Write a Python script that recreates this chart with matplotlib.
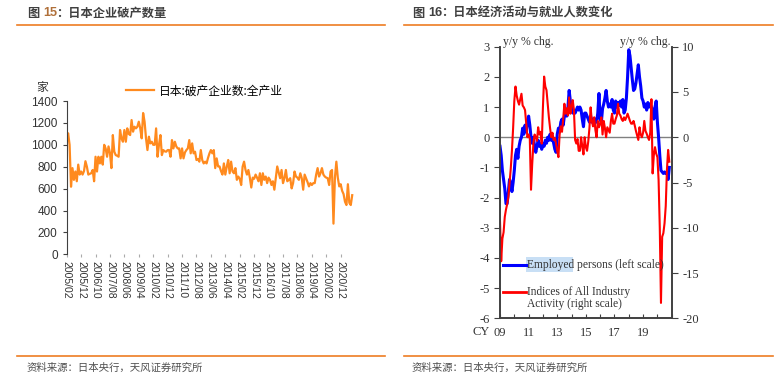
import matplotlib.pyplot as plt
from matplotlib.lines import Line2D
import numpy as np
import pandas as pd

plt.rcParams['font.family'] = ['Liberation Sans', 'Noto Sans CJK SC', 'DejaVu Sans']
plt.rcParams['axes.unicode_minus'] = False

# ---- 图15: 日本破产企业数 (monthly, from 2005/02) ----
bankrupt_start = '2005-02'
bankrupt_count = [
    1059, 1105, 1000, 617, 787, 680, 756, 667, 819, 728,
    756, 728, 760, 850, 800, 728, 735, 740, 770, 667,
    891, 756, 891, 830, 891, 819, 1000, 967, 891, 985,
    925, 787, 1089, 937, 906, 900, 891, 1135, 1059, 1028,
    1135, 1028, 1150, 1100, 1089, 1226, 1120, 1165, 1150, 1165,
    1211, 1150, 1059, 1290, 1211, 1059, 952, 1074, 1013, 1028,
    1000, 1000, 1150, 891, 1000, 1089, 906, 952, 940, 937,
    952, 952, 891, 1043, 967, 1028, 985, 967, 967, 876,
    967, 876, 930, 952, 967, 1043, 922, 1013, 922, 937,
    861, 870, 846, 952, 861, 830, 846, 830, 880, 922,
    952, 922, 952, 787, 876, 802, 802, 760, 728, 830,
    728, 800, 861, 740, 846, 756, 740, 787, 680, 710,
    690, 633, 800, 846, 770, 728, 770, 700, 610, 700,
    690, 728, 700, 667, 740, 633, 740, 680, 710, 650,
    700, 680, 633, 667, 590, 700, 802, 750, 695, 770,
    650, 695, 770, 667, 680, 695, 602, 650, 756, 710,
    700, 680, 740, 695, 590, 728, 695, 660, 620, 650,
    633, 650, 650, 728, 787, 710, 740, 787, 728, 710,
    700, 695, 633, 756, 770, 280, 700, 846, 700, 620,
    640, 580, 550, 480, 450, 640, 470, 450, 540,
]
bankrupt_label = '日本:破产企业数:全产业'

# ---- 图16: employed persons (left, y/y %) and all industry activity (right, y/y %) ----
activity_start_year = 2009
employed = [
    -0.3, -0.6, -1.1, -1.4, -1.7, -2.2, -2.2, -1.8, -1.4, -1.5, -1.8, -1.5,
    -1.1, -0.6, -0.4, -0.7, -0.3, -0.1, 0.0, 0.3, 0.1, 0.4, 0.2, 0.5,
    0.7, 0.4, 0.0, -0.2, 0.0, -0.3, -0.5, -0.3, -0.1, -0.3, -0.2, -0.4,
    -0.2, -0.3, -0.1, -0.2, 0.0, -0.1, 0.1, -0.1, 0.0, -0.2, -0.4, -0.5,
    0.1, 0.3, 0.2, 0.5, 0.6, 0.4, 0.7, 0.9, 0.7, 1.0, 1.55, 1.2,
    1.0, 0.8, 0.9, 0.8, 0.9, 1.0, 0.9, 1.0, 0.9, 0.6, 0.35, 0.8,
    0.8, 0.7, 0.6, 0.5, 0.7, 0.5, 0.6, 0.4, 0.6, 0.5, 0.8, 1.45,
    0.6, 0.5, 0.95, 1.1, 1.3, 1.55, 1.2, 1.0, 1.1, 1.0, 1.25, 0.9,
    0.8, 1.2, 1.0, 1.15, 1.05, 1.2, 1.0, 1.25, 0.8, 0.9, 1.3, 2.0,
    2.9, 2.7, 2.3, 1.9, 1.55, 1.6, 1.8, 2.1, 2.4, 2.0, 1.7, 1.3,
    1.2, 1.0, 1.1, 0.9, 1.15, 1.0, 1.1, 1.0, 0.9, 0.6, 1.0, 1.2,
    0.5, 0.0, -0.6, -1.1, -1.15, -1.2, -1.15, -1.2, -1.15, -1.4, -1.0,
]
activity = [
    -9.3, -13.7, -11.2, -10.5, -8.8, -8.0, -7.4, -6.6, -5.0, -3.5, -1.5, 1.0,
    4.0, 5.6, 4.6, 4.0, 3.6, 4.2, 4.8, 3.5, 3.3, 3.0, 1.5, 0.0,
    0.3, -0.2, -5.8, -3.0, -0.7, 0.3, 0.0, -0.4, 1.1, 0.3, 0.6, -0.7,
    3.3, 6.7, 5.6, 5.2, 3.7, 2.2, 1.0, 0.0, 0.5, -0.3, -0.1, -0.7,
    -1.5, -2.2, 0.3, 1.2, 0.6, 2.0, 3.7, 2.6, 3.2, 2.4, 4.4, 2.6,
    3.4, 4.1, 3.0, -0.3, -0.7, -0.2, -1.5, -1.5, 0.0, -1.0, -1.9, 0.0,
    -1.1, -1.5, -0.5, 1.0, 3.3, 1.8, 1.2, 2.2, 0.8, 0.0, 1.8, 1.1,
    1.5, 2.2, 0.3, 1.8, 1.0, 0.0, 1.1, 0.8, 0.5, 1.8, 2.6, 1.5,
    1.5, 2.0, 2.4, 3.7, 2.6, 2.4, 2.0, 1.8, 2.2, 1.9, 2.2, 2.6,
    2.2, 1.8, 1.5, 1.5, 1.8, 1.3, 0.7, 0.2, -0.3, 1.1, 0.3, 0.0,
    0.5, 1.8, 0.7, 0.4, 0.0, -0.3, 0.5, 4.2, -4.0, -2.0, -1.1, -1.8,
    -2.2, -4.7, -10.0, -18.3, -11.0, -10.6, -9.5, -7.6, -3.6, -1.4, -2.7,
]
year_labels = [2009, 2011, 2013, 2015, 2017, 2019]

ORANGE = '#EE7D22'
W, H = 780, 388


def fx(x):
    return x / W


def fy(y):
    return 1 - y / H


fig = plt.figure(figsize=(7.8, 3.88), dpi=100)

# headers, rules and sources
for x0, x1, tx, num, title in [(17, 385, 27, '15', '日本企业破产数量'),
                              (404, 773, 412, '16', '日本经济活动与就业人数变化')]:
    fig.text(fx(tx), fy(13), '图', fontsize=8.8, fontweight='bold', color='#404040', va='center',
             family='Noto Sans CJK SC')
    fig.text(fx(tx + 16), fy(13), num, fontsize=9.2, fontweight='bold',
             color='#B0703A' if num == '15' else '#404040', va='center')
    fig.text(fx(tx + 29), fy(13), '：' + title, fontsize=8.8, fontweight='bold', color='#404040', va='center',
             family='Noto Sans CJK SC')
    fig.add_artist(Line2D([fx(x0), fx(x1)], [fy(25), fy(25)], color=ORANGE, lw=1.2))
    fig.add_artist(Line2D([fx(x0), fx(x1)], [fy(356), fy(356)], color=ORANGE, lw=1.2))
    fig.text(fx(tx), fy(368), '资料来源：日本央行，天风证券研究所', fontsize=7.5, color='#505050',
             va='center', family='Noto Sans CJK SC')

# ---- left chart ----
dates = pd.date_range(bankrupt_start, periods=len(bankrupt_count), freq='MS')
xm = np.arange(len(bankrupt_count))
px_per_month = 1.442
ax1 = fig.add_axes([fx(66.7), fy(254.3), fx(357) - fx(66.7), (254.3 - 101) / H])
line1, = ax1.plot(xm, bankrupt_count, color='#FF8A1E', lw=1.6, label=bankrupt_label)
ax1.set_xlim(0, (357 - 66.7) / px_per_month)
ax1.set_ylim(0, 1400)
ax1.set_yticks(range(0, 1401, 200))
tick_pos = xm[::10][:20]
ax1.set_xticks(tick_pos)
ax1.set_xticklabels([d.strftime('%Y/%m') for d in dates[tick_pos]], rotation=-90, fontsize=7.5, color='#333333')
for s in ['top', 'right', 'bottom']:
    ax1.spines[s].set_visible(False)
ax1.spines['left'].set_color('#404040')
ax1.tick_params(axis='y', labelsize=8.5, labelcolor='#333333', length=3, color='#404040')
ax1.tick_params(axis='x', length=2, color='#aaaaaa', pad=3)
fig.legend(handles=[line1], loc='center left', bbox_to_anchor=(fx(126), fy(91)), frameon=False,
           handlelength=2.4, handletextpad=0.4, borderpad=0, borderaxespad=0,
           prop={'family': ['Noto Sans CJK SC'], 'size': 8.5})
fig.text(fx(42), fy(87), '家', fontsize=8.5, color='#333333', ha='center', va='center', family='Noto Sans CJK SC')

# ---- right chart ----
serif = 'Liberation Serif'
t = activity_start_year + np.arange(len(employed)) / 12
ax2 = fig.add_axes([fx(500), fy(318.3), fx(671.7) - fx(500), (318.3 - 46.7) / H])
ax2.axhline(0, color='#808080', lw=1)
ax2.plot(t, employed, color='#0000FF', lw=2.2)
ax3 = ax2.twinx()
ax3.plot(t, activity, color='#FF0000', lw=1.5)
ax2.set_xlim(activity_start_year, activity_start_year + 12)
ax2.set_ylim(-6, 3)
ax3.set_ylim(-20, 10)
ax2.set_yticks(range(-6, 4))
ax3.set_yticks(range(-20, 11, 5))
years = list(range(activity_start_year, activity_start_year + 13))
ax2.set_xticks(years)
ax2.set_xticklabels([f'{y % 100:02d}' if y in year_labels else '' for y in years])
for a in (ax2, ax3):
    a.spines['top'].set_visible(False)
    for s in ['left', 'right', 'bottom']:
        a.spines[s].set_color('#404040')
        a.spines[s].set_linewidth(1.2)
ax2.tick_params(axis='y', direction='out', length=4, color='#404040', labelsize=9, labelcolor='#333333')
ax3.tick_params(axis='y', direction='out', length=4, color='#404040', labelsize=9, labelcolor='#333333')
ax2.tick_params(axis='x', direction='in', length=3, color='#404040', labelsize=9, labelcolor='#333333', pad=6)
for lab in ax2.get_xticklabels() + ax2.get_yticklabels() + ax3.get_yticklabels():
    lab.set_family(serif)
fig.text(fx(490), fy(332), 'CY', fontsize=9, family=serif, color='#333333', ha='right', va='center')
fig.text(fx(503), fy(42), 'y/y % chg.', fontsize=8.5, family=serif, color='#333333', va='center')
fig.text(fx(670), fy(42), 'y/y % chg.', fontsize=8.5, family=serif, color='#333333', va='center', ha='right')

# legend inside the right chart
fig.add_artist(plt.Rectangle((fx(526), fy(272)), fx(573) - fx(526), 15 / H, color='#C8DFF5', lw=0))
fig.add_artist(Line2D([fx(503), fx(526)], [fy(265), fy(265)], color='#0000FF', lw=2.2))
fig.text(fx(527), fy(265), 'Employed persons (left scale)', fontsize=8.3, family=serif, color='#333333', va='center')
fig.add_artist(Line2D([fx(503), fx(526)], [fy(292), fy(292)], color='#FF0000', lw=2))
fig.text(fx(527), fy(292), 'Indices of All Industry', fontsize=8.3, family=serif, color='#333333', va='center')
fig.text(fx(527), fy(304), 'Activity (right scale)', fontsize=8.3, family=serif, color='#333333', va='center')

fig.savefig('out.png', dpi=100)
